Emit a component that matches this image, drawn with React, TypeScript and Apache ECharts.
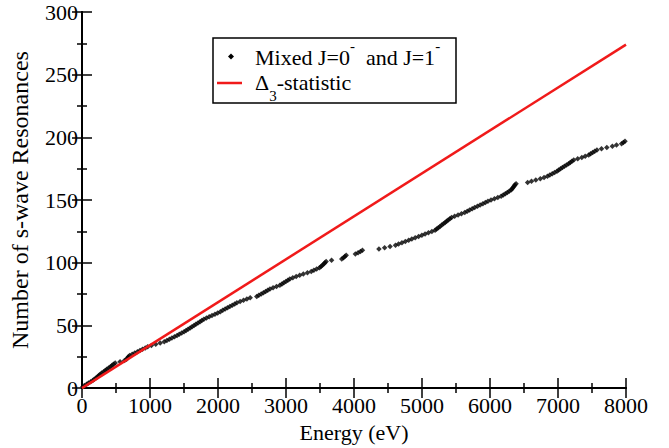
import React, { useEffect, useRef } from "react";
import * as echarts from "echarts";

// Resonance energies (eV) in ascending order; the n-th entry is the n-th resonance.
const resonanceEnergies: number[] = [
  12, 35, 68, 95, 128,
  158, 180, 205, 228, 246, 268, 290,
  318, 342, 365, 392, 418, 440, 462, 488,
  560, 625,
  655, 668, 682, 700,
  738, 776, 815, 852, 890, 930, 966,
  1020, 1085, 1150, 1210,
  1248, 1285, 1322, 1360, 1398, 1430, 1466, 1501,
  1530, 1560, 1590, 1618, 1647,
  1675, 1705, 1735, 1762, 1792,
  1830, 1870, 1912, 1955, 1995, 2035,
  2070, 2105, 2140, 2175, 2210, 2245, 2278,
  2325, 2375, 2425, 2473,
  2570, 2600,
  2635, 2668, 2700, 2732, 2764,
  2810, 2860, 2910,
  2940, 2968, 2998, 3028, 3056,
  3100, 3150, 3201,
  3255, 3315, 3371,
  3410, 3450, 3493,
  3515, 3535, 3555, 3572, 3590,
  3670,
  3820, 3845, 3865, 3885,
  4020, 4060, 4095, 4124,
  4367, 4450, 4530, 4610,
  4655, 4705, 4755, 4804,
  4850, 4900, 4950, 4998,
  5045, 5095, 5145, 5192,
  5215, 5240, 5265, 5290,
  5315, 5340, 5362, 5385, 5410, 5435,
  5480, 5530, 5580, 5629,
  5665, 5700, 5738, 5775,
  5815, 5855, 5895, 5932, 5970,
  6015, 6065, 6115, 6164,
  6195, 6225, 6255, 6282, 6310,
  6325, 6340, 6352, 6365, 6383,
  6553, 6610, 6674,
  6740, 6795, 6845,
  6880, 6915, 6950, 6985, 7010, 7038,
  7065, 7095, 7125, 7155, 7180, 7205, 7232,
  7290, 7350, 7400, 7451,
  7480, 7510, 7540, 7573,
  7640, 7718,
  7800, 7860,
  7935, 7961, 7985,
];

// Cumulative count of resonances at each energy above.
const resonanceCounts: number[] = resonanceEnergies.map((_, i) => i + 1);

// Straight-line fit used for the Delta-3 statistic.
const fitEnergies: number[] = [0, 8000];
const fitCounts: number[] = [0, 274];

const xTicks = { min: 0, max: 8000, interval: 1000 };
const yTicks = { min: 0, max: 300, interval: 50 };

const FONT = "Liberation Serif";
const RED = "#f01a1a";

export default function App() {
  const ref = useRef<HTMLDivElement>(null);

  useEffect(() => {
    if (!ref.current) return;
    const chart = echarts.init(ref.current, undefined, { renderer: "svg" });

    const axisLine = { show: true, lineStyle: { color: "#000", width: 2 } };
    const tick = { show: true, inside: true, length: 10, lineStyle: { color: "#000", width: 1.5 } };
    const minor = { show: true, splitNumber: 2, length: 5, lineStyle: { color: "#000", width: 1.5 } };
    const tickLabel = {
      fontFamily: FONT,
      fontSize: 22,
      color: "#000",
      formatter: (v: number) => String(v),
    };

    // Rich-text styles for the legend entries (superscript / subscript).
    const rich = {
      a: { fontFamily: FONT, fontSize: 22, color: "#000", padding: [8, 0, 10, 0] },
      sup: { fontFamily: FONT, fontSize: 15, color: "#000", verticalAlign: "top" },
      sub: { fontFamily: FONT, fontSize: 15, color: "#000", verticalAlign: "bottom" },
    };

    chart.setOption({
      animation: false,
      backgroundColor: "#fff",
      textStyle: { fontFamily: FONT, color: "#000" },
      grid: { left: 77, right: 43, top: 12, bottom: 52, containLabel: false },
      graphic: [
        {
          type: "rect",
          shape: { x: 213, y: 38, width: 243, height: 65 },
          style: { fill: "#fff", stroke: "#000", lineWidth: 1.5 },
          z: 10,
        },
        {
          type: "polygon",
          shape: { points: [[231, 53.5], [234, 56.5], [231, 59.5], [228, 56.5]] },
          style: { fill: "#000" },
          z: 11,
        },
        {
          type: "line",
          shape: { x1: 217, y1: 83, x2: 242, y2: 83 },
          style: { stroke: RED, lineWidth: 2.5 },
          z: 11,
        },
        {
          type: "text",
          x: 255,
          y: 38,
          style: {
            text: "{a|Mixed J=0}{sup|-}{a|  and J=1}{sup|-}",
            rich,
            verticalAlign: "top",
          },
          z: 11,
        },
        {
          type: "text",
          x: 255,
          y: 63,
          style: {
            text: "{a|Δ}{sub|3}{a|-statistic}",
            rich,
            verticalAlign: "top",
          },
          z: 11,
        },
      ],
      xAxis: [
        {
          type: "value",
          position: "bottom",
          ...xTicks,
          name: "Energy (eV)",
          nameLocation: "middle",
          nameGap: 30,
          nameTextStyle: { fontFamily: FONT, fontSize: 22, color: "#000" },
          axisLine,
          axisTick: tick,
          minorTick: minor,
          splitLine: { show: false },
          axisLabel: { ...tickLabel, margin: 6 },
        },
        {
          type: "value",
          position: "top",
          ...xTicks,
          axisLine,
          axisTick: tick,
          minorTick: minor,
          splitLine: { show: false },
          axisLabel: { show: false },
        },
      ],
      yAxis: [
        {
          type: "value",
          position: "left",
          ...yTicks,
          name: "Number of s-wave Resonances",
          nameLocation: "middle",
          nameGap: 50,
          nameTextStyle: { fontFamily: FONT, fontSize: 24, color: "#000" },
          axisLine,
          axisTick: tick,
          minorTick: minor,
          splitLine: { show: false },
          axisLabel: { ...tickLabel, margin: 4 },
        },
        {
          type: "value",
          position: "right",
          ...yTicks,
          axisLine,
          axisTick: tick,
          minorTick: minor,
          splitLine: { show: false },
          axisLabel: { show: false },
        },
      ],
      series: [
        {
          name: "Mixed J=0- and J=1-",
          type: "scatter",
          symbol: "diamond",
          symbolSize: 5.5,
          itemStyle: { color: "#000" },
          data: resonanceEnergies.map((e, i) => [e, resonanceCounts[i]]),
          z: 2,
        },
        {
          name: "Δ3-statistic",
          type: "line",
          symbol: "none",
          lineStyle: { color: RED, width: 2.5 },
          itemStyle: { color: RED },
          data: fitEnergies.map((e, i) => [e, fitCounts[i]]),
          z: 3,
        },
      ],
    });

    return () => chart.dispose();
  }, []);

  return (
    <div
      ref={ref}
      style={{ position: "fixed", left: 0, top: 0, width: 669, height: 448, background: "#fff" }}
    />
  );
}
